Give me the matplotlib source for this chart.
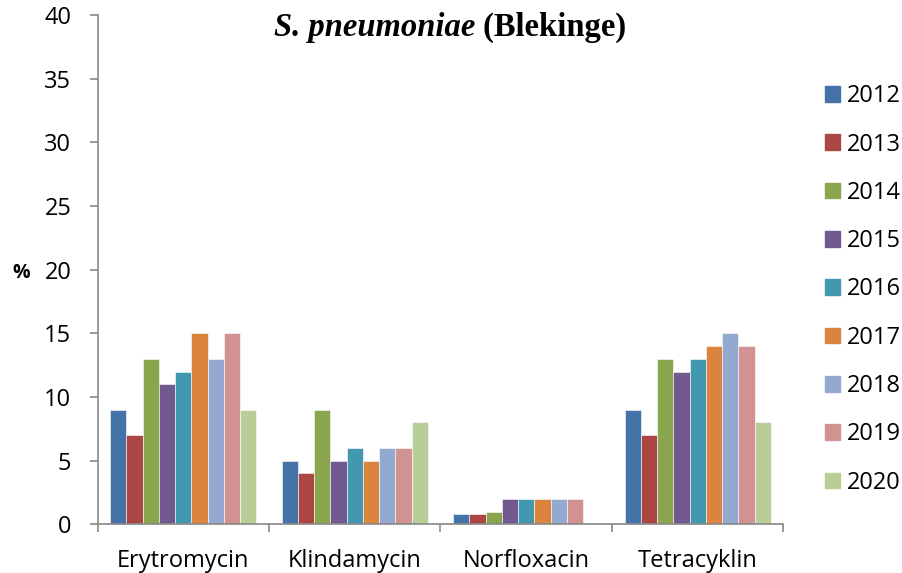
import numpy as np
import matplotlib.pyplot as plt
from matplotlib.patches import Patch

antibiotics = ['Erytromycin', 'Klindamycin', 'Norfloxacin', 'Tetracyklin']
years = ['2012', '2013', '2014', '2015', '2016', '2017', '2018', '2019', '2020']
# resistance (%) per year, one value per antibiotic
values = {
    '2012': [9, 5, 0.8, 9],
    '2013': [7, 4, 0.8, 7],
    '2014': [13, 9, 1, 13],
    '2015': [11, 5, 2, 12],
    '2016': [12, 6, 2, 13],
    '2017': [15, 5, 2, 14],
    '2018': [13, 6, 2, 15],
    '2019': [15, 6, 2, 14],
    '2020': [9, 8, 0, 8],
}
colors = ['#4572A7', '#AA4643', '#89A54E', '#71588F', '#4198AF',
          '#DB843D', '#93A9CF', '#D19392', '#B9CD96']

plt.rcParams['font.family'] = 'Open Sans'

fig = plt.figure(figsize=(9.02, 5.73), dpi=100)
ax = fig.add_axes([0.1081, 0.085, 0.7605, 0.8888])

x = np.arange(len(antibiotics))
w = 0.0946
for i, yr in enumerate(years):
    ax.bar(x + (i - 4) * w, values[yr], width=w, color=colors[i],
           edgecolor='white', linewidth=0.4, label=yr)

ax.set_xlim(-0.5, 3.5)
ax.set_ylim(0, 40)
ax.set_yticks(range(0, 41, 5))
ax.set_xticks(np.arange(-0.5, 3.6, 1))
ax.set_xticklabels([])
ax.set_xticks(x, minor=True)
ax.set_xticklabels(antibiotics, minor=True)
ax.tick_params(axis='x', which='minor', length=0, pad=18, labelsize=17)
ax.tick_params(axis='x', which='major', length=5.8, width=1.2, color='#888888', direction='out')
ax.tick_params(axis='y', length=5.8, width=1.2, color='#888888', direction='out',
               labelsize=17, pad=13)
for s in ['top', 'right']:
    ax.spines[s].set_visible(False)
for s in ['left', 'bottom']:
    ax.spines[s].set_color('#888888')
    ax.spines[s].set_linewidth(1.2)

fig.text(0.0133, 1 - 273 / 573, '%', fontsize=14, fontweight='bold',
         ha='left', va='center')

# title: italic species name followed by bold region
t1 = fig.text(274 / 902, 0.937, 'S. pneumoniae', fontsize=23.5, fontweight='bold',
              style='italic', family='Liberation Serif', ha='left', va='baseline')
fig.canvas.draw()
ax.annotate(' (Blekinge)', xy=(1, 0), xycoords=t1, fontsize=23.5, fontweight='bold',
            family='Liberation Serif', ha='left', va='bottom')

handles = [Patch(color=c) for c in colors]
fig.legend(handles, years, loc='center left', bbox_to_anchor=(825 / 902, 0.4948),
           frameon=False, fontsize=17, handlelength=0.64, handleheight=0.64,
           handletextpad=0.3, labelspacing=1.03, borderpad=0, borderaxespad=0)

fig.savefig('out.png', dpi=100)
